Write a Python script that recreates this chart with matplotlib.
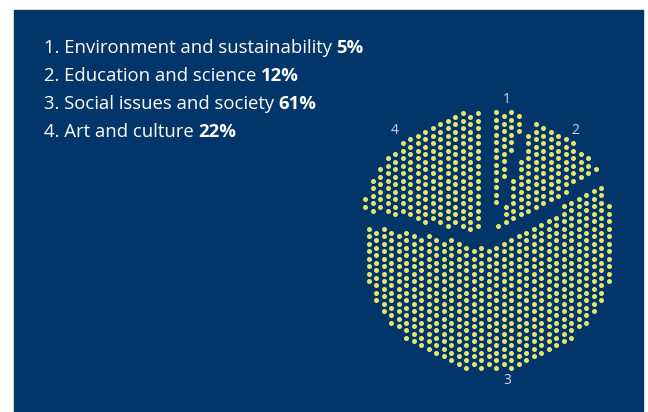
import numpy as np
import matplotlib.pyplot as plt
from matplotlib.patches import Rectangle

# data
labels = ["Environment and sustainability", "Education and science",
          "Social issues and society", "Art and culture"]
shares = [5, 12, 61, 22]
slice_names = ["1", "2", "3", "4"]

NAVY = "#02366a"
DOT = "#e3e56c"
LABEL_GREY = "#c9d4e6"
FONT = "Open Sans"

fig = plt.figure(figsize=(6.48, 4.12), dpi=100, facecolor="white")
ax = fig.add_axes([0, 0, 1, 1])
ax.set_xlim(0, 648)
ax.set_ylim(412, 0)
ax.axis("off")
ax.add_patch(Rectangle((14, 10), 629, 402, color=NAVY, zorder=0))

# legend lines, normal text followed by the bold share
renderer = fig.canvas.get_renderer()
for k, (lab, s) in enumerate(zip(labels, shares)):
    y = 53.3 + 27.8 * k
    t = ax.text(44, y, f"{k + 1}. {lab}", fontsize=13.3, family=FONT,
                color="white", va="baseline")
    bb = t.get_window_extent(renderer)
    x_end = ax.transData.inverted().transform((bb.x1, bb.y0))[0]
    ax.text(x_end + 4.5, y, f"{s}%", fontsize=13.3, family=FONT, fontweight="bold",
            color="white", va="baseline")

# dotted pie
cx, cy = 488, 240
R = 126
step = 7.5
gap = 3.2
explode = 4

bounds = np.concatenate([[0], np.cumsum(shares)]) / sum(shares) * 360

cols = np.arange(-20, 21)
rows = np.arange(-20, 21)
gi, gj = np.meshgrid(cols, rows)
px = gi * step
py = gj * step + (gi % 2) * step / 2
px = px.ravel()
py = py.ravel()
inside = np.hypot(px, py) <= R
px, py = px[inside], py[inside]

# angle clockwise from 12 o'clock (y grows downwards)
ang = np.degrees(np.arctan2(px, -py)) % 360

keep = np.ones(len(px), dtype=bool)
for b in bounds[:-1]:
    ux, uy = np.sin(np.radians(b)), -np.cos(np.radians(b))
    along = px * ux + py * uy
    perp = np.abs(px * uy - py * ux)
    keep &= ~((along > 0) & (perp < gap))
keep &= np.hypot(px, py) > 4

for i in range(len(shares)):
    a0, a1 = bounds[i], bounds[i + 1]
    m = keep & (ang >= a0) & (ang < a1)
    mid = np.radians((a0 + a1) / 2)
    ox, oy = explode * np.sin(mid), -explode * np.cos(mid)
    ax.scatter(cx + px[m] + ox, cy + py[m] + oy, s=13, color=DOT,
               linewidths=0, zorder=2)
    lr = 142
    ax.text(cx - 3 + lr * np.sin(mid), cy - lr * np.cos(mid), slice_names[i],
            fontsize=10, family=FONT, color=LABEL_GREY,
            ha="center", va="center")

fig.savefig("out.png", dpi=100, facecolor="white")
